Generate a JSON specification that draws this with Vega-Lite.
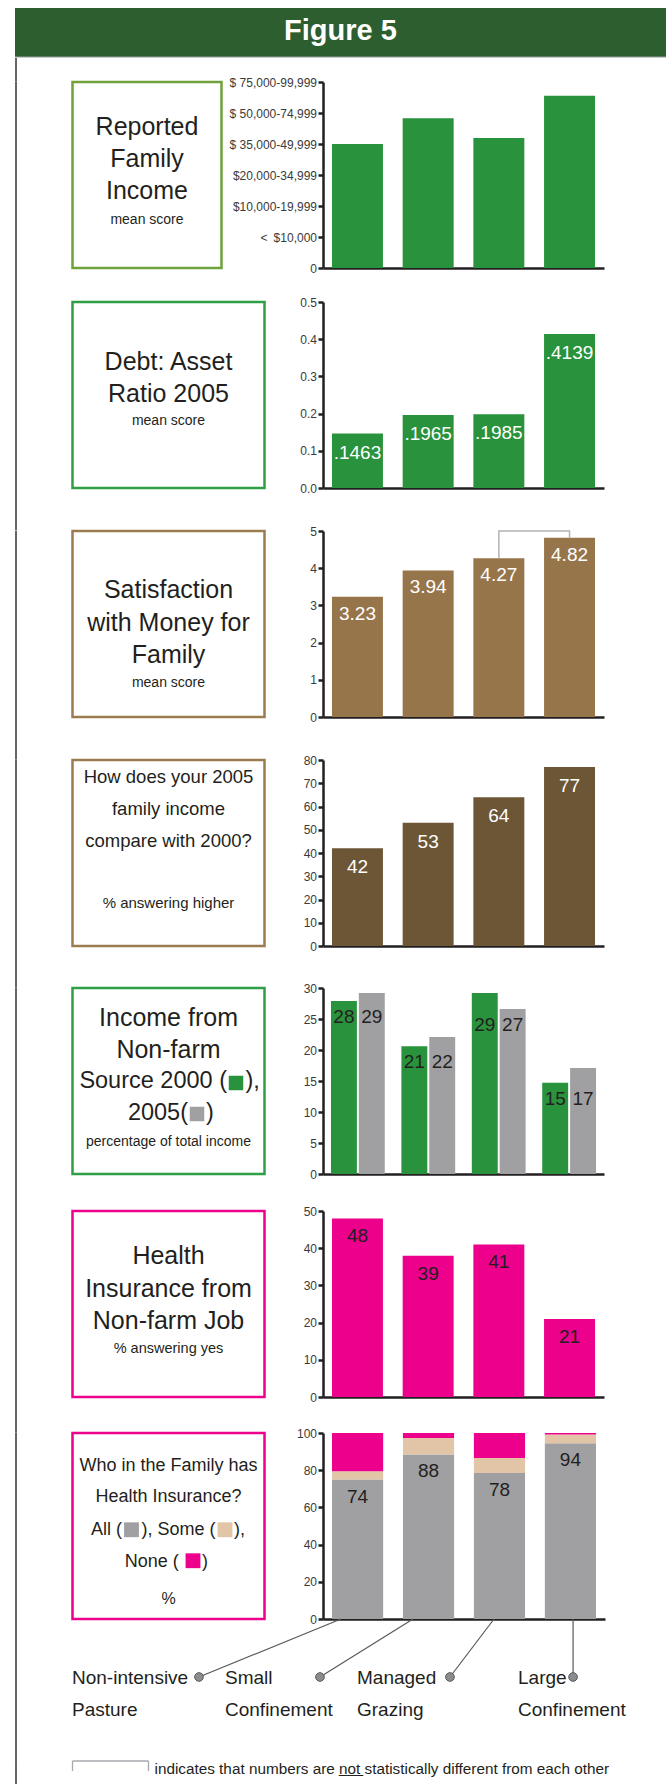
{
  "$schema": "https://vega.github.io/schema/vega-lite/v6.json",
  "padding": {"left": 14, "top": 8, "right": 0, "bottom": 0},
  "background": "white",
  "spacing": 0,
  "config": {
    "view": {"stroke": null},
    "font": "Liberation Sans, Arial, sans-serif",
    "axis": {"grid": false, "domainColor": "#231f20", "domainWidth": 2.5, "tickColor": "#231f20", "tickWidth": 2.5, "tickSize": 5, "labelFont": "Liberation Sans, Arial, sans-serif", "labelFontSize": 12, "labelColor": "#3a3a3a", "labelPadding": 1.5}
  },
  "vconcat": [
    {
      "width": 652, "height": 49,
      "view": {"fill": "#2c5e30", "stroke": null},
      "data": {"values": [{"title": "Figure 5"}]},
      "layer": [
        {"mark": {"type": "text", "fontSize": 29, "fontWeight": "bold", "color": "white", "baseline": "middle", "dy": -2, "dx": -0.5}, "encoding": {"text": {"field": "title"}}},
        {"mark": {"type": "rule", "color": "#9a9a9a", "strokeWidth": 1}, "encoding": {"y": {"datum": 0, "type": "quantitative", "scale": {"domain": [0, 1]}, "axis": null}}}
      ]
    },
    {
      "columns": 3,
      "spacing": {"row": 0, "column": 55.5},
      "bounds": "flush",
      "align": "each",
      "resolve": {"scale": {"color": "independent"}},
      "concat": [
        {"width": 2, "height": 23.6, "view": {"fill": "#666666", "stroke": null}, "data": {"values": [{}]}, "mark": {"type": "rect", "color": "#666666"}, "encoding": {}},
        {"width": 195, "height": 1, "data": {"values": []}, "mark": "text", "encoding": {}},
        {"width": 1, "height": 1, "data": {"values": []}, "mark": "text", "encoding": {}},

        {"width": 2, "height": 220, "view": {"fill": "#666666", "stroke": null}, "data": {"values": [{}]}, "mark": {"type": "rect", "color": "#666666"}, "encoding": {}},
        {
          "width": 149, "height": 186,
          "view": {"stroke": "#6fa23b", "strokeWidth": 2.5, "fill": "white"},
          "data": {"values": [{"title": "Reported|Family|Income", "note": "mean score"}]},
          "layer": [
            {"mark": {"type": "text", "lineBreak": "|", "fontSize": 25, "lineHeight": 32, "baseline": "middle", "dy": -48, "color": "#231f20"}, "encoding": {"text": {"field": "title"}}},
            {"mark": {"type": "text", "fontSize": 14, "baseline": "middle", "dy": 45, "color": "#231f20"}, "encoding": {"text": {"field": "note"}}}
          ]
        },
        {
          "width": 281, "height": 186,
          "data": {"values": [
            {"group": "Non-intensive Pasture", "income": 4.0},
            {"group": "Small Confinement", "income": 4.83},
            {"group": "Managed Grazing", "income": 4.19},
            {"group": "Large Confinement", "income": 5.56}
          ]},
          "mark": {"type": "bar", "color": "#29923c"},
          "encoding": {
            "x": {"field": "group", "type": "nominal", "title": null, "scale": {"domain": ["Non-intensive Pasture", "Small Confinement", "Managed Grazing", "Large Confinement"], "paddingInner": 0.279, "paddingOuter": 0.127}, "axis": {"labels": false, "ticks": false, "title": null}},
            "y": {"field": "income", "type": "quantitative", "title": null, "scale": {"domain": [0, 6], "nice": false}, "axis": {"values": [0, 1, 2, 3, 4, 5, 6], "labelExpr": "['0', '<\u2002$10,000', '$10,000-19,999', '$20,000-34,999', '$ 35,000-49,999', '$ 50,000-74,999', '$ 75,000-99,999'][datum.value]"}}
          }
        },

        {"width": 2, "height": 228.15, "view": {"fill": "#666666", "stroke": null}, "data": {"values": [{}]}, "mark": {"type": "rect", "color": "#666666"}, "encoding": {}},
        {
          "width": 192, "height": 186,
          "view": {"stroke": "#2f9e46", "strokeWidth": 2.5, "fill": "white"},
          "data": {"values": [{"title": "Debt: Asset|Ratio 2005", "note": "mean score"}]},
          "layer": [
            {"mark": {"type": "text", "lineBreak": "|", "fontSize": 25, "lineHeight": 32, "baseline": "middle", "dy": -33.5, "color": "#231f20"}, "encoding": {"text": {"field": "title"}}},
            {"mark": {"type": "text", "fontSize": 14, "baseline": "middle", "dy": 25.5, "color": "#231f20"}, "encoding": {"text": {"field": "note"}}}
          ]
        },
        {
          "width": 281, "height": 186,
          "data": {"values": [
            {"group": "Non-intensive Pasture", "ratio": 0.1463, "label": ".1463"},
            {"group": "Small Confinement", "ratio": 0.1965, "label": ".1965"},
            {"group": "Managed Grazing", "ratio": 0.1985, "label": ".1985"},
            {"group": "Large Confinement", "ratio": 0.4139, "label": ".4139"}
          ]},
          "encoding": {
            "x": {"field": "group", "type": "nominal", "title": null, "scale": {"domain": ["Non-intensive Pasture", "Small Confinement", "Managed Grazing", "Large Confinement"], "paddingInner": 0.279, "paddingOuter": 0.127}, "axis": {"labels": false, "ticks": false, "title": null}},
            "y": {"field": "ratio", "type": "quantitative", "title": null, "scale": {"domain": [0, 0.5], "nice": false}, "axis": {"values": [0, 0.1, 0.2, 0.3, 0.4, 0.5], "format": ".1f"}}
          },
          "layer": [
            {"mark": {"type": "bar", "color": "#29923c"}},
            {"mark": {"type": "text", "fontSize": 19, "baseline": "middle", "dy": 19, "color": "white"}, "encoding": {"text": {"field": "label"}}}
          ]
        },

        {"width": 2, "height": 228.5, "view": {"fill": "#666666", "stroke": null}, "data": {"values": [{}]}, "mark": {"type": "rect", "color": "#666666"}, "encoding": {}},
        {
          "width": 192, "height": 186,
          "view": {"stroke": "#9b7b50", "strokeWidth": 2.5, "fill": "white"},
          "data": {"values": [{"title": "Satisfaction|with Money for|Family", "note": "mean score"}]},
          "layer": [
            {"mark": {"type": "text", "lineBreak": "|", "fontSize": 25, "lineHeight": 32.5, "baseline": "middle", "dy": -34, "color": "#231f20"}, "encoding": {"text": {"field": "title"}}},
            {"mark": {"type": "text", "fontSize": 14, "baseline": "middle", "dy": 59, "color": "#231f20"}, "encoding": {"text": {"field": "note"}}}
          ]
        },
        {
          "width": 281, "height": 186,
          "data": {"values": [
            {"group": "Non-intensive Pasture", "score": 3.23, "label": "3.23"},
            {"group": "Small Confinement", "score": 3.94, "label": "3.94"},
            {"group": "Managed Grazing", "score": 4.27, "label": "4.27"},
            {"group": "Large Confinement", "score": 4.82, "label": "4.82"}
          ]},
          "encoding": {
            "x": {"field": "group", "type": "nominal", "title": null, "scale": {"domain": ["Non-intensive Pasture", "Small Confinement", "Managed Grazing", "Large Confinement"], "paddingInner": 0.279, "paddingOuter": 0.127}, "axis": {"labels": false, "ticks": false, "title": null}}
          },
          "resolve": {"axis": {"y": "independent"}},
          "layer": [
            {"mark": {"type": "bar", "color": "#97754b"}, "encoding": {"y": {"field": "score", "type": "quantitative", "title": null, "scale": {"domain": [0, 5], "nice": false}, "axis": {"values": [0, 1, 2, 3, 4, 5]}}}},
            {"mark": {"type": "text", "fontSize": 19, "baseline": "middle", "dy": 17, "color": "white"}, "encoding": {"y": {"field": "score", "type": "quantitative", "title": null, "axis": null}, "text": {"field": "label"}}},
            {
              "data": {"values": [
                {"group": "Managed Grazing", "level": 4.27, "seq": 1},
                {"group": "Managed Grazing", "level": 5, "seq": 2},
                {"group": "Large Confinement", "level": 5, "seq": 3},
                {"group": "Large Confinement", "level": 4.82, "seq": 4}
              ]},
              "mark": {"type": "line", "color": "#b1b3b6", "strokeWidth": 1.5},
              "encoding": {
                "y": {"field": "level", "type": "quantitative", "title": null, "axis": null},
                "order": {"field": "seq", "type": "quantitative"}
              }
            }
          ]
        },

        {"width": 2, "height": 227.5, "view": {"fill": "#666666", "stroke": null}, "data": {"values": [{}]}, "mark": {"type": "rect", "color": "#666666"}, "encoding": {}},
        {
          "width": 192, "height": 186,
          "view": {"stroke": "#9b7b50", "strokeWidth": 2.5, "fill": "white"},
          "data": {"values": [{"title": "How does your 2005|family income|compare with 2000?", "note": "% answering higher"}]},
          "layer": [
            {"mark": {"type": "text", "lineBreak": "|", "fontSize": 18.5, "lineHeight": 32, "baseline": "middle", "dy": -76.25, "color": "#231f20"}, "encoding": {"text": {"field": "title"}}},
            {"mark": {"type": "text", "fontSize": 15, "baseline": "middle", "dy": 49.75, "color": "#231f20"}, "encoding": {"text": {"field": "note"}}}
          ]
        },
        {
          "width": 281, "height": 186,
          "data": {"values": [
            {"group": "Non-intensive Pasture", "higher": 42, "label": "42"},
            {"group": "Small Confinement", "higher": 53, "label": "53"},
            {"group": "Managed Grazing", "higher": 64, "label": "64"},
            {"group": "Large Confinement", "higher": 77, "label": "77"}
          ]},
          "encoding": {
            "x": {"field": "group", "type": "nominal", "title": null, "scale": {"domain": ["Non-intensive Pasture", "Small Confinement", "Managed Grazing", "Large Confinement"], "paddingInner": 0.279, "paddingOuter": 0.127}, "axis": {"labels": false, "ticks": false, "title": null}},
            "y": {"field": "higher", "type": "quantitative", "title": null, "scale": {"domain": [0, 80], "nice": false}, "axis": {"values": [0, 10, 20, 30, 40, 50, 60, 70, 80]}}
          },
          "layer": [
            {"mark": {"type": "bar", "color": "#6c5636"}},
            {"mark": {"type": "text", "fontSize": 19, "baseline": "middle", "dy": 19, "color": "white"}, "encoding": {"text": {"field": "label"}}}
          ]
        },

        {"width": 2, "height": 223, "view": {"fill": "#666666", "stroke": null}, "data": {"values": [{}]}, "mark": {"type": "rect", "color": "#666666"}, "encoding": {}},
        {
          "width": 192, "height": 186,
          "view": {"stroke": "#2f9e46", "strokeWidth": 2.5, "fill": "white"},
          "data": {"values": [{"title": "Income from|Non-farm", "l3a": "Source 2000 (", "l3b": "),", "l4a": "2005(", "l4b": ")", "note": "percentage of total income"}]},
          "layer": [
            {"mark": {"type": "text", "lineBreak": "|", "fontSize": 25, "lineHeight": 32, "baseline": "middle", "dy": -63.5, "color": "#231f20"}, "encoding": {"text": {"field": "title"}}},
            {"mark": {"type": "text", "fontSize": 23.5, "align": "right", "baseline": "middle", "dx": 58.5, "dy": -0.5, "color": "#231f20"}, "encoding": {"text": {"field": "l3a"}}},
            {"mark": {"type": "square", "size": 210, "filled": true, "opacity": 1, "color": "#29923c", "xOffset": 67.5, "yOffset": 2}, "encoding": {}},
            {"mark": {"type": "text", "fontSize": 23.5, "align": "left", "baseline": "middle", "dx": 77, "dy": -0.5, "color": "#231f20"}, "encoding": {"text": {"field": "l3b"}}},
            {"mark": {"type": "text", "fontSize": 23.5, "align": "right", "baseline": "middle", "dx": 19.5, "dy": 31.5, "color": "#231f20"}, "encoding": {"text": {"field": "l4a"}}},
            {"mark": {"type": "square", "size": 210, "filled": true, "opacity": 1, "color": "#a0a0a2", "xOffset": 28.5, "yOffset": 33}, "encoding": {}},
            {"mark": {"type": "text", "fontSize": 23.5, "align": "left", "baseline": "middle", "dx": 37.5, "dy": 31.5, "color": "#231f20"}, "encoding": {"text": {"field": "l4b"}}},
            {"mark": {"type": "text", "fontSize": 14, "baseline": "middle", "dy": 60.5, "color": "#231f20"}, "encoding": {"text": {"field": "note"}}}
          ]
        },
        {
          "width": 281, "height": 186,
          "data": {"values": [
            {"group": "Non-intensive Pasture", "year": "2000", "share": 27.9, "label": "28"},
            {"group": "Non-intensive Pasture", "year": "2005", "share": 29.2, "label": "29"},
            {"group": "Small Confinement", "year": "2000", "share": 20.6, "label": "21"},
            {"group": "Small Confinement", "year": "2005", "share": 22.1, "label": "22"},
            {"group": "Managed Grazing", "year": "2000", "share": 29.2, "label": "29"},
            {"group": "Managed Grazing", "year": "2005", "share": 26.6, "label": "27"},
            {"group": "Large Confinement", "year": "2000", "share": 14.7, "label": "15"},
            {"group": "Large Confinement", "year": "2005", "share": 17.1, "label": "17"}
          ]},
          "transform": [{"joinaggregate": [{"op": "min", "field": "share", "as": "pairLow"}], "groupby": ["group"]}],
          "encoding": {
            "x": {"field": "group", "type": "nominal", "title": null, "scale": {"domain": ["Non-intensive Pasture", "Small Confinement", "Managed Grazing", "Large Confinement"], "paddingInner": 0.236, "paddingOuter": 0.113}, "axis": {"labels": false, "ticks": false, "title": null}},
            "xOffset": {"field": "year", "type": "nominal", "scale": {"domain": ["2000", "2005"], "paddingInner": 0.07, "paddingOuter": 0}}
          },
          "resolve": {"axis": {"y": "independent"}},
          "layer": [
            {
              "mark": {"type": "bar"},
              "encoding": {
                "y": {"field": "share", "type": "quantitative", "title": null, "scale": {"domain": [0, 30], "nice": false}, "axis": {"values": [0, 5, 10, 15, 20, 25, 30]}},
                "color": {"field": "year", "type": "nominal", "scale": {"domain": ["2000", "2005"], "range": ["#29923c", "#a0a0a2"]}, "legend": null}
              }
            },
            {
              "mark": {"type": "text", "fontSize": 19, "baseline": "middle", "dy": 16, "color": "#231f20"},
              "encoding": {
                "y": {"field": "pairLow", "type": "quantitative", "title": null, "axis": null},
                "text": {"field": "label"}
              }
            }
          ]
        },

        {"width": 2, "height": 221.5, "view": {"fill": "#666666", "stroke": null}, "data": {"values": [{}]}, "mark": {"type": "rect", "color": "#666666"}, "encoding": {}},
        {
          "width": 192, "height": 186,
          "view": {"stroke": "#ec008c", "strokeWidth": 2.5, "fill": "white"},
          "data": {"values": [{"title": "Health|Insurance from|Non-farm Job", "note": "% answering yes"}]},
          "layer": [
            {"mark": {"type": "text", "lineBreak": "|", "fontSize": 25, "lineHeight": 32.5, "baseline": "middle", "dy": -47.75, "color": "#231f20"}, "encoding": {"text": {"field": "title"}}},
            {"mark": {"type": "text", "fontSize": 14.5, "baseline": "middle", "dy": 45.25, "color": "#231f20"}, "encoding": {"text": {"field": "note"}}}
          ]
        },
        {
          "width": 281, "height": 186,
          "data": {"values": [
            {"group": "Non-intensive Pasture", "insured": 48, "label": "48"},
            {"group": "Small Confinement", "insured": 38, "label": "39"},
            {"group": "Managed Grazing", "insured": 41, "label": "41"},
            {"group": "Large Confinement", "insured": 21, "label": "21"}
          ]},
          "encoding": {
            "x": {"field": "group", "type": "nominal", "title": null, "scale": {"domain": ["Non-intensive Pasture", "Small Confinement", "Managed Grazing", "Large Confinement"], "paddingInner": 0.279, "paddingOuter": 0.127}, "axis": {"labels": false, "ticks": false, "title": null}},
            "y": {"field": "insured", "type": "quantitative", "title": null, "scale": {"domain": [0, 50], "nice": false}, "axis": {"values": [0, 10, 20, 30, 40, 50]}}
          },
          "layer": [
            {"mark": {"type": "bar", "color": "#ec008c"}},
            {"mark": {"type": "text", "fontSize": 19, "baseline": "middle", "dy": 18, "color": "#231f20"}, "encoding": {"text": {"field": "label"}}}
          ]
        },

        {"width": 2, "height": 186, "view": {"fill": "#666666", "stroke": null}, "data": {"values": [{}]}, "mark": {"type": "rect", "color": "#666666"}, "encoding": {}},
        {
          "width": 192, "height": 186,
          "view": {"stroke": "#ec008c", "strokeWidth": 2.5, "fill": "white"},
          "data": {"values": [{"title": "Who in the Family has|Health Insurance?", "a1": "All (", "a2": "), Some (", "a3": "),", "b1": "None (", "b2": ")", "unit": "%"}]},
          "layer": [
            {"mark": {"type": "text", "lineBreak": "|", "fontSize": 18, "lineHeight": 31, "baseline": "middle", "dy": -60.25, "color": "#231f20"}, "encoding": {"text": {"field": "title"}}},
            {"mark": {"type": "text", "fontSize": 18, "align": "right", "baseline": "middle", "dx": -46.5, "dy": 3.75, "color": "#231f20"}, "encoding": {"text": {"field": "a1"}}},
            {"mark": {"type": "square", "size": 220, "filled": true, "opacity": 1, "color": "#a0a0a2", "xOffset": -37, "yOffset": 3.75}, "encoding": {}},
            {"mark": {"type": "text", "fontSize": 18, "align": "center", "baseline": "middle", "dx": 10, "dy": 3.75, "color": "#231f20"}, "encoding": {"text": {"field": "a2"}}},
            {"mark": {"type": "square", "size": 220, "filled": true, "opacity": 1, "color": "#e2c4a6", "xOffset": 56.5, "yOffset": 3.75}, "encoding": {}},
            {"mark": {"type": "text", "fontSize": 18, "align": "left", "baseline": "middle", "dx": 65.5, "dy": 3.75, "color": "#231f20"}, "encoding": {"text": {"field": "a3"}}},
            {"mark": {"type": "text", "fontSize": 18, "align": "right", "baseline": "middle", "dx": 10.2, "dy": 35.75, "color": "#231f20"}, "encoding": {"text": {"field": "b1"}}},
            {"mark": {"type": "square", "size": 220, "filled": true, "opacity": 1, "color": "#ec008c", "xOffset": 24.5, "yOffset": 34.75}, "encoding": {}},
            {"mark": {"type": "text", "fontSize": 18, "align": "left", "baseline": "middle", "dx": 33.5, "dy": 35.75, "color": "#231f20"}, "encoding": {"text": {"field": "b2"}}},
            {"mark": {"type": "text", "fontSize": 16, "baseline": "middle", "dy": 72.75, "color": "#231f20"}, "encoding": {"text": {"field": "unit"}}}
          ]
        },
        {
          "width": 282, "height": 186,
          "data": {"values": [
            {"group": "Non-intensive Pasture", "coverage": "All", "share": 75, "label": "74"},
            {"group": "Non-intensive Pasture", "coverage": "Some", "share": 4.5, "label": ""},
            {"group": "Non-intensive Pasture", "coverage": "None", "share": 20.5, "label": ""},
            {"group": "Small Confinement", "coverage": "All", "share": 88.5, "label": "88"},
            {"group": "Small Confinement", "coverage": "Some", "share": 8.8, "label": ""},
            {"group": "Small Confinement", "coverage": "None", "share": 2.7, "label": ""},
            {"group": "Managed Grazing", "coverage": "All", "share": 78.5, "label": "78"},
            {"group": "Managed Grazing", "coverage": "Some", "share": 8, "label": ""},
            {"group": "Managed Grazing", "coverage": "None", "share": 13.5, "label": ""},
            {"group": "Large Confinement", "coverage": "All", "share": 94.5, "label": "94"},
            {"group": "Large Confinement", "coverage": "Some", "share": 4.7, "label": ""},
            {"group": "Large Confinement", "coverage": "None", "share": 0.8, "label": ""}
          ]},
          "transform": [{"calculate": "indexof(['All', 'Some', 'None'], datum.coverage)", "as": "stackRank"}],
          "encoding": {
            "x": {"field": "group", "type": "nominal", "title": null, "scale": {"domain": ["Non-intensive Pasture", "Small Confinement", "Managed Grazing", "Large Confinement"], "paddingInner": 0.279, "paddingOuter": 0.127}, "axis": {"labels": false, "ticks": false, "title": null}}
          },
          "resolve": {"axis": {"y": "independent"}},
          "layer": [
            {
              "mark": {"type": "bar"},
              "encoding": {
                "y": {"field": "share", "type": "quantitative", "stack": "zero", "title": null, "scale": {"domain": [0, 100], "nice": false}, "axis": {"values": [0, 20, 40, 60, 80, 100]}},
                "color": {"field": "coverage", "type": "nominal", "scale": {"domain": ["All", "Some", "None"], "range": ["#a0a0a2", "#e2c4a6", "#ec008c"]}, "legend": null},
                "order": {"field": "stackRank", "type": "quantitative"}
              }
            },
            {
              "transform": [{"filter": "datum.coverage === 'All'"}],
              "mark": {"type": "text", "fontSize": 19, "baseline": "middle", "dy": 17, "color": "#231f20"},
              "encoding": {
                "y": {"field": "share", "type": "quantitative", "stack": null, "title": null, "axis": null},
                "text": {"field": "label"}
              }
            }
          ]
        },

        {"width": 2, "height": 141.75, "view": {"fill": "#666666", "stroke": null}, "data": {"values": [{}]}, "mark": {"type": "rect", "color": "#666666"}, "encoding": {}},
        {"width": 1, "height": 1, "data": {"values": []}, "mark": "text", "encoding": {}},
        {
          "width": 282, "height": 58,
          "data": {"values": [
            {"group": "Non-intensive Pasture", "line1": "Non-intensive", "line2": "Pasture", "leaderFrom": 0.755, "leaderTo": -1.259, "labelAt": -3.06},
            {"group": "Small Confinement", "line1": "Small", "line2": "Confinement", "leaderFrom": 1.777, "leaderTo": 0.457, "labelAt": -0.89},
            {"group": "Managed Grazing", "line1": "Managed", "line2": "Grazing", "leaderFrom": 2.926, "leaderTo": 2.301, "labelAt": 0.982},
            {"group": "Large Confinement", "line1": "Large", "line2": "Confinement", "leaderFrom": 4.047, "leaderTo": 4.047, "labelAt": 3.266}
          ]},
          "layer": [
            {
              "mark": {"type": "rule", "color": "#58595b", "strokeWidth": 1.2},
              "encoding": {
                "x": {"field": "leaderFrom", "type": "quantitative", "scale": {"domain": [0.5, 4.5], "nice": false, "zero": false}, "axis": null},
                "x2": {"field": "leaderTo"},
                "y": {"datum": 1, "type": "quantitative", "scale": {"domain": [0, 1], "nice": false}, "axis": null},
                "y2": {"datum": 0}
              }
            },
            {
              "mark": {"type": "point", "filled": true, "size": 75, "fill": "#8a8c8e", "stroke": "#58595b", "strokeWidth": 1, "opacity": 1},
              "encoding": {
                "x": {"field": "leaderTo", "type": "quantitative", "axis": null},
                "y": {"datum": 0, "type": "quantitative", "axis": null}
              }
            },
            {
              "mark": {"type": "text", "align": "left", "baseline": "middle", "dy": 1, "fontSize": 19, "color": "#231f20"},
              "encoding": {
                "x": {"field": "labelAt", "type": "quantitative", "axis": null},
                "y": {"datum": 0, "type": "quantitative", "axis": null},
                "text": {"field": "line1"}
              }
            },
            {
              "mark": {"type": "text", "align": "left", "baseline": "middle", "dy": 33, "fontSize": 19, "color": "#231f20"},
              "encoding": {
                "x": {"field": "labelAt", "type": "quantitative", "axis": null},
                "y": {"datum": 0, "type": "quantitative", "axis": null},
                "text": {"field": "line2"}
              }
            }
          ]
        },

        {"width": 2, "height": 27, "view": {"fill": "#666666", "stroke": null}, "data": {"values": [{}]}, "mark": {"type": "rect", "color": "#666666"}, "encoding": {}},
        {
          "width": 76, "height": 10,
          "data": {"values": [{"note": "indicates that numbers are n\u0332o\u0332t\u0332 statistically different from each other"}]},
          "layer": [
            {"mark": {"type": "rule", "color": "#a7a9ac", "strokeWidth": 1.3}, "encoding": {"x": {"datum": 0, "type": "quantitative", "scale": {"domain": [0, 1], "nice": false}, "axis": null}, "x2": {"datum": 1}, "y": {"datum": 1, "type": "quantitative", "scale": {"domain": [0, 1], "nice": false}, "axis": null}}},
            {"mark": {"type": "rule", "color": "#a7a9ac", "strokeWidth": 1.3}, "encoding": {"x": {"datum": 0, "type": "quantitative", "axis": null}, "y": {"datum": 0, "type": "quantitative", "axis": null}, "y2": {"datum": 1}}},
            {"mark": {"type": "rule", "color": "#a7a9ac", "strokeWidth": 1.3}, "encoding": {"x": {"datum": 1, "type": "quantitative", "axis": null}, "y": {"datum": 0, "type": "quantitative", "axis": null}, "y2": {"datum": 1}}},
            {"mark": {"type": "text", "align": "left", "baseline": "middle", "dx": 6, "fontSize": 15.3, "color": "#231f20"}, "encoding": {"x": {"datum": 1, "type": "quantitative", "axis": null}, "y": {"datum": 0.2, "type": "quantitative", "axis": null}, "text": {"field": "note"}}}
          ]
        },
        {"width": 1, "height": 1, "data": {"values": []}, "mark": "text", "encoding": {}}
      ]
    }
  ]
}
